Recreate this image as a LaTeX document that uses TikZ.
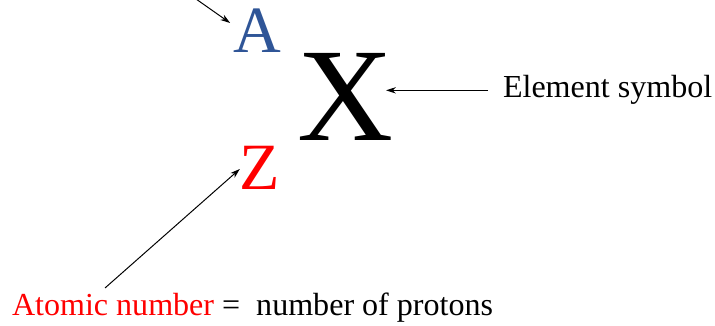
\documentclass[tikz,border=0pt]{standalone}
\usepackage{fontspec}
\setmainfont{Liberation Serif}
\usepackage{xcolor}
\usepackage{tikz}
\usetikzlibrary{arrows.meta,positioning,calc}
\definecolor{massblue}{HTML}{2F5597}

\begin{document}
\begin{tikzpicture}[x=0.025cm,y=0.025cm,
  sym/.style={inner sep=0pt,outer sep=0pt},
  lbl/.style={inner sep=0pt,outer sep=0pt,anchor=base west,font=\fontsize{22.8}{27}\selectfont},
  arr/.style={-{Stealth[length=7pt,width=4.5pt]},line width=0.7pt}
]
\useasboundingbox (0,0) rectangle (715,-326);
\node[sym,text=massblue,font=\fontsize{47}{50}\selectfont] (mass) at (257,-30.5) {A};
\node[sym,font=\fontsize{94.6}{100}\selectfont]            (elem) at (346,-97)   {X};
\node[sym,text=red,font=\fontsize{47}{50}\selectfont]       (atno) at (260,-167.5) {Z};
\node[lbl] (elemlbl) at (503,-98) {Element symbol};
\node[lbl,text=red] (atnolbl) at (12,-315) {Atomic number};
\node[lbl] (protons) at ($(atnolbl.base east)+(8,0)$) {=\ \ number of protons};
\coordinate (masstail) at (196,1);
\coordinate (atnotail) at (105,-288);
\coordinate (elemtip) at ($(elem.east)+(-8,0)$);
\draw[arr] (masstail) -- ($(mass.west)+(-3,7.5)$);
\draw[arr] ($(elemlbl.west)+(-15,0)$) -- (elemtip |- elemlbl.west);
\draw[arr] (atnotail) -- ($(atno.west)+(0,-1.5)$);
\end{tikzpicture}
\end{document}
